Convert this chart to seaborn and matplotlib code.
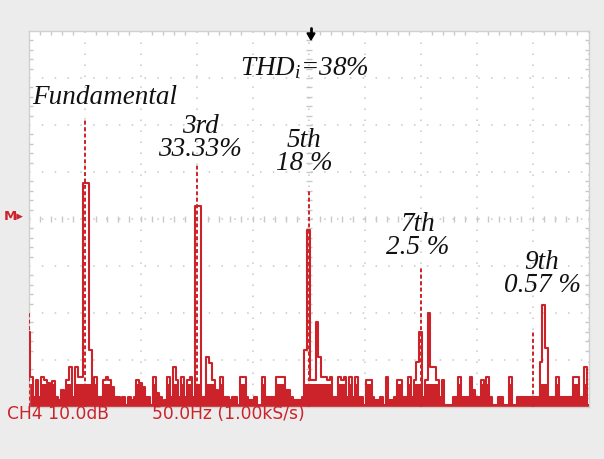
import numpy as np
import pandas as pd
import matplotlib
matplotlib.use("Agg")
import matplotlib.pyplot as plt
import seaborn as sns

# ---------------- data ----------------
freq_step_hz = 2.5
level_db = [
    -64.0, -73.6, -77.9, -74.3, -77.9, -73.6, -74.3, -74.9, -77.9, -74.5,   # 0-9
    -77.9, -78.5, -76.4, -79.0, -74.3, -71.5, -77.9, -71.5, -73.6, -73.6,   # 10-19
    -32.3, -32.3, -67.9, -77.9, -73.6, -77.9, -77.9, -74.3, -73.6, -74.3,   # 20-29
    -75.7, -77.9, -77.9, -79.5, -77.9, -79.5, -77.9, -78.5, -77.9, -74.3,   # 30-39
    -74.9, -75.7, -77.9, -77.9, -79.5, -73.6, -77.0, -77.9, -79.0, -78.5,   # 40-49
    -73.6, -77.9, -71.5, -74.3, -77.9, -73.6, -77.9, -74.3, -73.6, -77.9,   # 50-59
    -37.2, -37.2, -77.9, -77.9, -69.4, -70.6, -74.3, -76.4, -77.9, -73.6,   # 60-69
    -77.9, -77.9, -78.5, -77.9, -77.9, -79.5, -73.6, -73.6, -77.9, -78.5,   # 70-79
    -78.5, -77.9, -79.5, -79.5, -73.6, -77.9, -77.9, -77.9, -77.9, -73.6,   # 80-89
    -73.6, -73.6, -76.4, -76.4, -77.9, -78.5, -78.5, -78.5, -77.9, -67.9,   # 90-99
    -42.3, -74.3, -74.3, -61.9, -69.4, -73.6, -73.6, -74.3, -73.6, -77.9,   # 100-109
    -77.9, -73.6, -74.3, -73.6, -77.9, -73.6, -77.9, -73.6, -77.9, -77.9,   # 110-119
    -79.5, -74.3, -74.3, -77.9, -78.5, -78.5, -77.9, -79.6, -73.6, -78.5,   # 120-129
    -78.5, -77.9, -74.3, -74.3, -77.9, -77.9, -73.6, -77.9, -74.3, -70.4,   # 130-139
    -64.0, -77.9, -74.3, -60.0, -71.5, -71.5, -74.3, -77.9, -74.3, -79.6,   # 140-149
    -79.6, -79.6, -77.9, -77.9, -73.6, -77.9, -77.9, -77.9, -73.6, -76.4,   # 150-159
    -77.9, -77.9, -74.3, -76.4, -73.6, -77.9, -79.6, -79.6, -77.9, -77.9,   # 160-169
    -79.6, -79.6, -73.6, -79.6, -79.6, -77.9, -77.9, -77.9, -77.9, -77.9,   # 170-179
    -77.9, -77.9, -77.9, -70.4, -58.3, -67.4, -77.9, -77.9, -77.9, -73.6,   # 180-189
    -77.9, -77.9, -77.9, -77.9, -77.9, -73.6, -73.6, -77.9, -77.9, -71.5,   # 190-199
    -79.6,                                                                   # 200
]
peak_freqs_hz = [0, 50, 150, 250, 350, 450]
peak_db = [-60.0, -18.5, -28.5, -33.8, -50.4, -64.0]

harmonic_names = ["Fundamental", "3rd", "5th", "7th", "9th"]
harmonic_pcts = ["", "33.33%", "18 %", "2.5 %", "0.57 %"]
thd_label = r"$\mathit{THD_i}$=38%"
channel_label = "CH4 10.0dB"
rate_label = "50.0Hz (1.00kS/s)"

# ---------------- style ----------------
RED = "#cc2229"
GRID = "#c8c8c8"
W, H = 604, 459

sns.set_theme(style="white")
plt.rcParams["font.family"] = ["DejaVu Sans"]
plt.rcParams["mathtext.fontset"] = "custom"
plt.rcParams["mathtext.it"] = "Liberation Serif:italic"
plt.rcParams["mathtext.rm"] = "Liberation Serif"

fig = plt.figure(figsize=(W / 100, H / 100), dpi=100, facecolor="#ececec")
ax = fig.add_axes([28.5 / W, (H - 407) / H, 560 / W, 376 / H])
ax.set_facecolor("white")

freqs = np.arange(len(level_db)) * freq_step_hz
df = pd.DataFrame({"freq": freqs, "level": level_db})
levels = np.asarray(level_db)

# filled low-level noise band
ax.fill_between(df["freq"], -80, np.minimum(levels, -75.0), step="mid",
                color=RED, lw=0, zorder=2)
# spectrum trace
sns.lineplot(data=df, x="freq", y="level", ax=ax, color=RED, lw=1.5,
             drawstyle="steps-mid", zorder=3, legend=False)
# dashed peak markers
ax.vlines(peak_freqs_hz, -80, peak_db, colors=RED, lw=1.4,
          linestyles=(0, (2.0, 1.3)), zorder=4)

ax.set_xlim(0, 500)
ax.set_ylim(-80, 0)
ax.set_xticks(np.arange(0, 501, 50))
ax.set_yticks(np.arange(-80, 1, 10))
ax.set_xticks(np.arange(0, 501, 10), minor=True)
ax.set_yticks(np.arange(-80, 1, 2), minor=True)
ax.set_xticklabels([])
ax.set_yticklabels([])
ax.set_xlabel("")
ax.set_ylabel("")
ax.tick_params(which="both", direction="in", color=GRID, top=True, right=True,
               bottom=True, left=True)
ax.tick_params(which="major", length=0)
ax.tick_params(which="minor", length=3, width=1)
ax.xaxis.grid(True, which="major", color=GRID, lw=1.1, ls=(0, (1.0, 6.2)))
ax.yaxis.grid(True, which="major", color=GRID, lw=1.1, ls=(0, (1.0, 7.4)))
for s in ax.spines.values():
    s.set_color("#d0d0d0")
    s.set_linewidth(1.0)

# centre crosshair ticks
ax.plot(np.full(41, 250.0), np.arange(-80, 0.1, 2), ls="none", marker="_",
        ms=5, mew=1.0, color=GRID, zorder=1)
ax.plot(np.arange(0, 500.1, 10), np.full(51, -40.0), ls="none", marker="|",
        ms=5, mew=1.0, color=GRID, zorder=1)

# ---------------- annotations ----------------
def fx(x):
    return x / W

def fy(y):
    return 1 - y / H

serif = dict(family="Liberation Serif", style="italic", fontsize=19.5,
             color="#111111")
fig.text(fx(32), fy(98), harmonic_names[0], ha="left", va="center", **serif)
label_pos = [(200, 138), (304, 152), (418, 236), (542, 274)]
for name, pct, (lx, ly) in zip(harmonic_names[1:], harmonic_pcts[1:], label_pos):
    fig.text(fx(lx), fy(ly), name + "\n" + pct, ha="center", va="center",
             multialignment="center", linespacing=0.92, **serif)
fig.text(fx(304), fy(68), thd_label, ha="center", va="center", **serif)

# trigger arrow at top
fig.patches.append(plt.Polygon([[fx(307), fy(33)], [fx(315), fy(33)], [fx(311), fy(40)]],
                               closed=True, transform=fig.transFigure,
                               color="black", zorder=10))
fig.lines.append(plt.Line2D([fx(311), fx(311)], [fy(28), fy(34)],
                            transform=fig.transFigure, color="black", lw=2))

# M marker
fig.text(fx(4), fy(217), "M\u25B8", color=RED, fontsize=9.5, fontweight="bold",
         ha="left", va="center")

# bottom readouts
sans = dict(family="DejaVu Sans", fontsize=12.3, color=RED, ha="left", va="center")
fig.text(fx(7), fy(414), channel_label, **sans)
fig.text(fx(152), fy(414), rate_label, **sans)

fig.savefig("out.png", dpi=100, facecolor=fig.get_facecolor())
